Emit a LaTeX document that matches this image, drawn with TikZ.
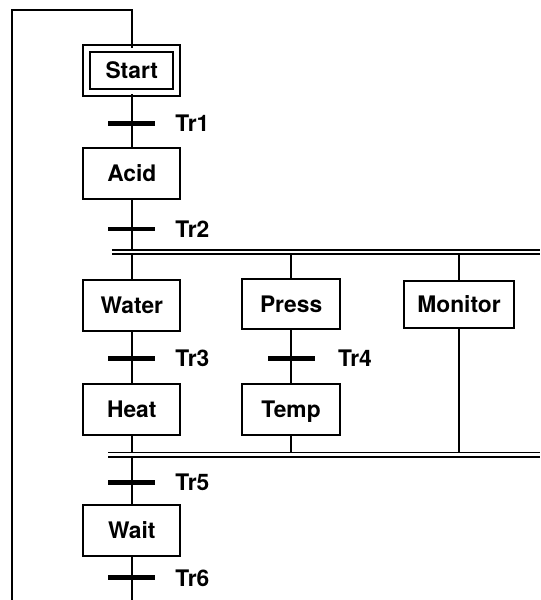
\documentclass[tikz,border=0pt]{standalone}
\usepackage{fontspec}
\setmainfont{TeX Gyre Heros}
\usetikzlibrary{positioning}

\tikzset{
  stepbox/.style={draw, rectangle, line width=1.05pt, minimum width=1.8cm, minimum height=0.94cm, fill=white, text height=8.6pt, text depth=0pt},
  initstep/.style={draw, rectangle, line width=1.05pt, double, double distance=2.6pt, minimum width=1.67cm, minimum height=0.82cm, text height=8.6pt, text depth=0pt},
  trbar/.style={fill=black, inner sep=0pt, minimum width=0.87cm, minimum height=2.6pt},
  trlabel/.style={inner sep=0pt, text height=8.6pt, text depth=0pt},
  link/.style={line width=1.05pt},
  sync/.style={line width=1.05pt, double, double distance=1.3pt}
}

\begin{document}
\begin{tikzpicture}[font=\fontsize{12}{14}\selectfont\bfseries]
	\useasboundingbox (0,0) rectangle (10,-11.11);
	
	\node[initstep] (start) at (2.44, -1.31) {Start};
	\node[trbar] (tr1) at (2.44, -2.28) {};
	\node[trlabel, right=0.36cm of tr1] (tr1lbl) {Tr1};
	\node[stepbox] (acid) at (2.44, -3.21) {Acid};
	\node[trbar] (tr2) at (2.44, -4.24) {};
	\node[trlabel, right=0.36cm of tr2] (tr2lbl) {Tr2};
	
	\coordinate (sync1l) at (2.07, -4.67);
	\coordinate (sync1r) at (10, -4.67);
	
	\node[stepbox] (water) at (2.44, -5.65) {Water};
	\node[stepbox] (press) at (5.39, -5.63) {Press};
	\node[stepbox, minimum width=2.04cm, minimum height=0.87cm] (monitor) at (8.5, -5.64) {Monitor};
	
	\node[trbar] (tr3) at (2.44, -6.63) {};
	\node[trlabel, right=0.36cm of tr3] (tr3lbl) {Tr3};
	\node[trbar] (tr4) at (5.39, -6.63) {};
	\node[trlabel, right=0.42cm of tr4] (tr4lbl) {Tr4};
	
	\node[stepbox] (heat) at (2.44, -7.58) {Heat};
	\node[stepbox] (temp) at (5.39, -7.58) {Temp};
	
	\coordinate (sync2l) at (2.0, -8.42);
	\coordinate (sync2r) at (10, -8.42);
	
	\node[trbar] (tr5) at (2.44, -8.93) {};
	\node[trlabel, right=0.36cm of tr5] (tr5lbl) {Tr5};
	\node[stepbox] (wait) at (2.44, -9.82) {Wait};
	\node[trbar] (tr6) at (2.44, -10.70) {};
	\node[trlabel, right=0.36cm of tr6] (tr6lbl) {Tr6};
	
	% loop back to the initial step
	\coordinate (looptop) at (0.22, -0.19);
	\coordinate (loopend) at (0.22, -11.11);
	
	\draw[link] (start) -- (acid);
	\draw[link] (acid) -- (acid |- sync1l);
	\draw[link] (water |- sync1l) -- (water);
	\draw[link] (press |- sync1l) -- (press);
	\draw[link] (monitor |- sync1l) -- (monitor);
	\draw[link] (water) -- (heat);
	\draw[link] (press) -- (temp);
	\draw[link] (heat) -- (heat |- sync2l);
	\draw[link] (temp) -- (temp |- sync2l);
	\draw[link] (monitor) -- (monitor |- sync2l);
	\draw[link] (wait |- sync2l) -- (wait);
	\draw[link] (wait) -- (wait |- loopend);
	\draw[link] (start) |- (looptop) -- (loopend);
	
	\draw[sync] (sync1l) -- (sync1r);
	\draw[sync] (sync2l) -- (sync2r);
\end{tikzpicture}
\end{document}
